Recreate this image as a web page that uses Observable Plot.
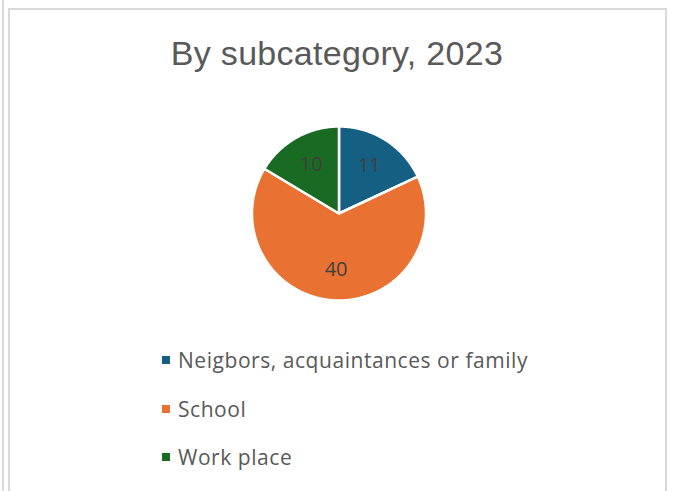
<!DOCTYPE html>
<html>
<head>
<meta charset="utf-8">
<script src="https://cdn.jsdelivr.net/npm/d3@7"></script>
<script src="https://cdn.jsdelivr.net/npm/@observablehq/plot@0.6"></script>
<style>
  html, body { margin: 0; padding: 0; background: #fff; }
  #wrap { position: relative; width: 673px; height: 491px; overflow: hidden; background: #fff; }
  .vline { position: absolute; background: #d9d9d9; }
  #title { position: absolute; left: 8px; width: 658px; top: 33px; text-align: center;
           font-family: "Liberation Sans", Arial, sans-serif; font-size: 34px; letter-spacing: 0.3px;
           color: #595959; line-height: 40px; white-space: nowrap; }
  #chart { position: absolute; left: 0; top: 0; }
  #legend { position: absolute; left: 162px; top: 0; font-family: "Open Sans", "Liberation Sans", sans-serif;
            font-size: 21px; letter-spacing: 0.55px; color: #595959; }
  .item { position: absolute; left: 0; white-space: nowrap; display: flex; align-items: center; height: 24px; line-height: 24px; }
  .sw { width: 8px; height: 8px; margin-right: 8px; }
</style>
</head>
<body>
<div id="wrap">
  <div class="vline" style="left:2px; top:0; width:2px; height:491px"></div>
  <div class="vline" style="left:8px; top:9px; width:2px; height:482px"></div>
  <div class="vline" style="left:8px; top:8px; width:659px; height:2px"></div>
  <div class="vline" style="left:665px; top:8px; width:2px; height:483px"></div>
  <div id="title"></div>
  <div id="chart"></div>
  <div id="legend"></div>
</div>
<script>
const title = "By subcategory, 2023";
const categories = ["Neigbors, acquaintances or family", "School", "Work place"];
const values = [11, 40, 10];
const colors = ["#156082", "#E97132", "#196B24"];

document.getElementById("title").textContent = title;

// Build slice polygons (angles measured clockwise from 12 o'clock)
const pie = d3.pie().sort(null).value(d => d.value)(categories.map((c, i) => ({category: c, value: values[i]})));
const polys = [];
const labels = [];
pie.forEach(s => {
  const n = Math.max(2, Math.ceil((s.endAngle - s.startAngle) / 0.01));
  polys.push({category: s.data.category, x: 0, y: 0});
  for (let k = 0; k <= n; k++) {
    const a = s.startAngle + (s.endAngle - s.startAngle) * k / n;
    polys.push({category: s.data.category, x: Math.sin(a), y: Math.cos(a)});
  }
  const m = (s.startAngle + s.endAngle) / 2;
  labels.push({value: s.data.value, x: 0.65 * Math.sin(m), y: 0.65 * Math.cos(m)});
});

const W = 673, H = 491, cx = 338.5, cy = 213, r = 87;
const chart = Plot.plot({
  width: W, height: H,
  marginLeft: cx - r, marginRight: W - (cx + r),
  marginTop: cy - r, marginBottom: H - (cy + r),
  x: {domain: [-1, 1], axis: null},
  y: {domain: [-1, 1], axis: null},
  color: {domain: categories, range: colors},
  style: {background: "transparent"},
  marks: [
    Plot.line(polys, {x: "x", y: "y", z: "category", fill: "category", stroke: "#fff",
                      strokeWidth: 2.5, curve: "linear-closed", strokeLinejoin: "round"}),
    Plot.text(labels, {x: "x", y: "y", text: d => String(d.value), fontSize: 20,
                       fill: "#404040", fontFamily: "Open Sans, Liberation Sans, sans-serif"})
  ]
});
document.getElementById("chart").appendChild(chart);

const legend = document.getElementById("legend");
const rowTops = [348, 397, 445];
categories.forEach((c, i) => {
  const it = document.createElement("div");
  it.className = "item";
  it.style.top = rowTops[i] + "px";
  const sw = document.createElement("span");
  sw.className = "sw";
  sw.style.background = colors[i];
  const tx = document.createElement("span");
  tx.textContent = c;
  it.appendChild(sw); it.appendChild(tx);
  legend.appendChild(it);
});
</script>
</body>
</html>
